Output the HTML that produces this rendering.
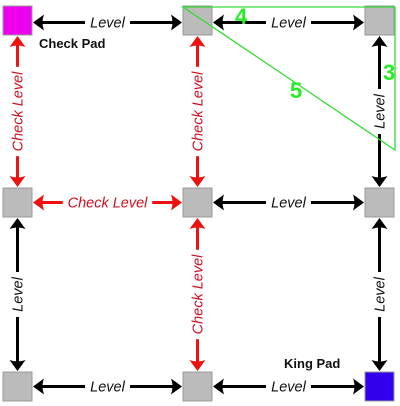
<!DOCTYPE html>
<html><head><meta charset="utf-8"><style>
html,body{margin:0;padding:0;background:#fff;width:400px;height:406px;overflow:hidden}
svg{display:block}
text{font-family:"Liberation Sans",sans-serif}
</style></head><body>
<svg id="c" width="400" height="406" viewBox="0 0 400 406">
<g id="links"></g>
<g id="pads"></g>
<g>
<polygon points="183,7 395,7 395,150" fill="none" stroke="#33dd33" stroke-width="1.3"/>
<text x="235" y="24" font-size="22" font-weight="bold" fill="#22ee22">4</text>
<text x="290" y="98" font-size="22" font-weight="bold" fill="#22ee22">5</text>
<text x="383" y="80" font-size="22" font-weight="bold" fill="#22ee22">3</text>
</g>
<text x="39" y="48" font-size="13" font-weight="bold" fill="#111">Check Pad</text>
<text x="284" y="368" font-size="13" font-weight="bold" fill="#111">King Pad</text>
</svg>
<script>
const NS='http://www.w3.org/2000/svg';
const colX=[3,183,365];
const rowY=[6,188,372];
const S=29;
// pads: [col,row,fill]
const pads=[[0,0,'#ee00ee'],[1,0,'#bbbbbb'],[2,0,'#bbbbbb'],[0,1,'#bbbbbb'],[1,1,'#bbbbbb'],[2,1,'#bbbbbb'],[0,2,'#bbbbbb'],[1,2,'#bbbbbb'],[2,2,'#3300ee']];
// links: [col1,row1,col2,row2,label,color]
const links=[[0,0,1,0,'Level','#000'],[1,0,2,0,'Level','#000'],
[0,1,1,1,'Check Level','#ee1111'],[1,1,2,1,'Level','#000'],
[0,2,1,2,'Level','#000'],[1,2,2,2,'Level','#000'],
[0,0,0,1,'Check Level','#ee1111'],[1,0,1,1,'Check Level','#ee1111'],[2,0,2,1,'Level','#000'],
[0,1,0,2,'Level','#000'],[1,1,1,2,'Check Level','#ee1111'],[2,1,2,2,'Level','#000']];
const gp=document.getElementById('pads'),gl=document.getElementById('links');
function mk(t,a,p){const e=document.createElementNS(NS,t);for(const k in a)e.setAttribute(k,a[k]);p.appendChild(e);return e;}
pads.forEach((p,i)=>{
 const r=mk('rect',{x:colX[p[0]],y:rowY[p[1]],width:S,height:S,fill:p[2],stroke:'#999','stroke-width':1},gp);
 
 
});
const FS=14.5, CW=7.4;
links.forEach(l=>{
 const g=mk('g',{},gl);
 
 
 const col=l[5], tcol=col==='#000'?'#111':'#cc1122';
 if(l[3]===l[1]){
  const y=rowY[l[1]]+S/2+(l[1]==0?2:0), x1=colX[l[0]]+S+1, x2=colX[l[2]]-1;
  const cx=(x1+x2)/2, tw=l[4].length*CW+8;
  mk('line',{x1:x1+6,y1:y,x2:cx-tw/2,y2:y,stroke:col,'stroke-width':3},g);
  mk('line',{x1:cx+tw/2,y1:y,x2:x2-6,y2:y,stroke:col,'stroke-width':3},g);
  mk('path',{d:`M${x1} ${y} L${x1+11} ${y-8} Q${x1+8} ${y} ${x1+11} ${y+8}Z`,fill:col},g);
  mk('path',{d:`M${x2} ${y} L${x2-11} ${y-8} Q${x2-8} ${y} ${x2-11} ${y+8}Z`,fill:col},g);
  const t=mk('text',{x:cx,y:y+5,'font-size':FS,'font-style':'italic','text-anchor':'middle',fill:tcol},g);t.textContent=l[4];
 } else {
  const x=colX[l[0]]+S/2, y1=rowY[l[1]]+S+1, y2=rowY[l[3]]-1;
  const cy=(y1+y2)/2, tw=l[4].length*CW+8;
  mk('line',{x1:x,y1:y1+6,x2:x,y2:cy-tw/2,stroke:col,'stroke-width':3},g);
  mk('line',{x1:x,y1:cy+tw/2,x2:x,y2:y2-6,stroke:col,'stroke-width':3},g);
  mk('path',{d:`M${x} ${y1} L${x-8} ${y1+11} Q${x} ${y1+8} ${x+8} ${y1+11}Z`,fill:col},g);
  mk('path',{d:`M${x} ${y2} L${x-8} ${y2-11} Q${x} ${y2-8} ${x+8} ${y2-11}Z`,fill:col},g);
  const t=mk('text',{x:x+5,y:cy,'font-size':FS,'font-style':'italic','text-anchor':'middle',fill:tcol,transform:`rotate(-90 ${x+5} ${cy})`},g);t.textContent=l[4];
 }
});
</script>
</body></html>
